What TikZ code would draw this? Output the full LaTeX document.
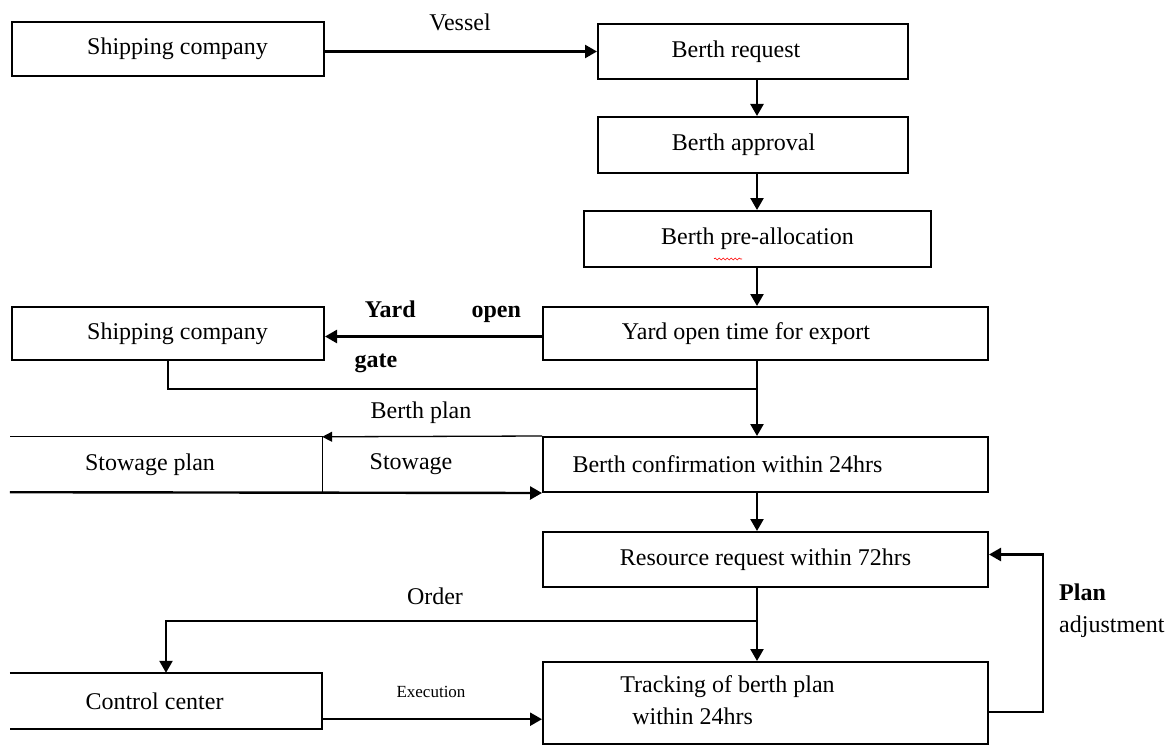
\documentclass[tikz,border=0pt]{standalone}
\usepackage{fontspec}
\setmainfont{Liberation Serif}
\usetikzlibrary{arrows.meta,decorations.pathmorphing}
\newcommand{\boxfont}{\fontsize{24}{28}\selectfont}
\newcommand{\smallfont}{\fontsize{17}{20}\selectfont}
\tikzset{
  box/.style={draw, line width=2pt, inner sep=0pt, font=\boxfont},
  openbox/.style={inner sep=0pt, font=\boxfont},
  lbl/.style={inner sep=0pt, font=\boxfont},
  link/.style={line width=2.4pt},
  thinlink/.style={line width=1.3pt},
  arr/.style={line width=2.4pt, -{Triangle[length=12pt,width=13pt]}},
  thinarr/.style={line width=1.3pt, -{Triangle[length=10pt,width=10pt]}}
}
\begin{document}
\begin{tikzpicture}[x=1pt,y=-1pt]
\useasboundingbox (0,0) rectangle (1174,746);
% boxes
\node[box, minimum width=312pt, minimum height=54pt] (ship1) at (168,49) {\hspace*{19pt}Shipping company};
\node[box, minimum width=310pt, minimum height=55pt] (request) at (753,51.5) {Berth request\kern34pt};
\node[box, minimum width=310pt, minimum height=56pt] (approval) at (753,145) {Berth approval\kern19pt};
\node[box, minimum width=347pt, minimum height=56pt] (prealloc) at (757.5,239) {Berth pre-allocation};
\node[box, minimum width=312pt, minimum height=53pt] (ship2) at (168,333.5) {\hspace*{19pt}Shipping company};
\node[box, minimum width=445pt, minimum height=53pt] (yard) at (765.5,333.5) {Yard open time for export\kern39pt};
\node[openbox, minimum width=312pt, minimum height=55pt] (stowage) at (166,464.5) {Stowage plan\kern32pt};
\node[box, minimum width=445pt, minimum height=55pt] (confirm) at (765.5,464.5) {Berth confirmation within 24hrs\kern76pt};
\node[box, minimum width=445pt, minimum height=55pt] (resource) at (765.5,559.5) {Resource request within 72hrs};
\node[openbox, minimum width=312pt, minimum height=56pt] (control) at (166,701) {Control center\kern23pt};
\node[box, minimum width=445pt, minimum height=82pt] (tracking) at (765.5,703)
  {\begin{tabular}{@{}l@{}}Tracking of berth plan\\[4pt]\hspace*{12pt}within 24hrs\end{tabular}\kern76pt};

% open boxes on the left
\draw[thinlink] (stowage.south east) -- (stowage.north east) -- (stowage.north west);
\draw[box] (control.north west) -- (control.north east) -- (control.south east) -- (control.south west);
\draw[red, line width=0.6pt, decorate, decoration={snake, amplitude=1pt, segment length=4pt}] (714,259) -- (742,259);

% main line
\coordinate (spine) at (757,0);
\coordinate (gatej) at (757,389);
\coordinate (orderj) at (757,621);
\draw[arr] (ship1.east |- request.west) -- (request.west);
\draw[arr] (request.south -| spine) -- (approval.north -| spine);
\draw[arr] (approval.south -| spine) -- (prealloc.north -| spine);
\draw[arr] (prealloc.south -| spine) -- (yard.north -| spine);
\draw[arr] ([yshift=-3pt]yard.west) -- ([yshift=-3pt]ship2.east);
\draw[link] (ship2.south) |- (gatej);
\draw[arr] (yard.south -| spine) -- (confirm.north -| spine);
\draw[thinarr] (confirm.north west) -- (stowage.north east);
\draw[arr] (stowage.south west) -- (confirm.south west);
\draw[arr] (confirm.south -| spine) -- (resource.north -| spine);
\draw[arr] (resource.south -| spine) -- (tracking.north -| spine);
\draw[arr] (orderj) -| (control.north);
\draw[arr] ([yshift=10pt]control.south east) -- ([yshift=10pt]control.south east -| tracking.west);
\draw[arr] ([yshift=-9pt]tracking.east) -- ++(54,0) |- ([yshift=5pt]resource.east);

% labels
\node[lbl] (vessel) at (460,22) {Vessel};
\node[lbl, font=\boxfont\bfseries] (yardlbl) at (443,312) {Yard\hspace{56pt}open};
\node[lbl, font=\boxfont\bfseries] (gatelbl) at (376,363) {gate};
\node[lbl] (planlbl) at (421,413) {Berth plan};
\node[lbl] (stowlbl) at (411,464) {Stowage};
\node[lbl] (orderlbl) at (435,596) {Order};
\node[lbl, font=\smallfont] (execlbl) at (431,692) {Execution};
\node[lbl, anchor=west, align=left] (adjlbl) at (1059,611) {\textbf{Plan}\\[4pt]adjustment};
\end{tikzpicture}
\end{document}
